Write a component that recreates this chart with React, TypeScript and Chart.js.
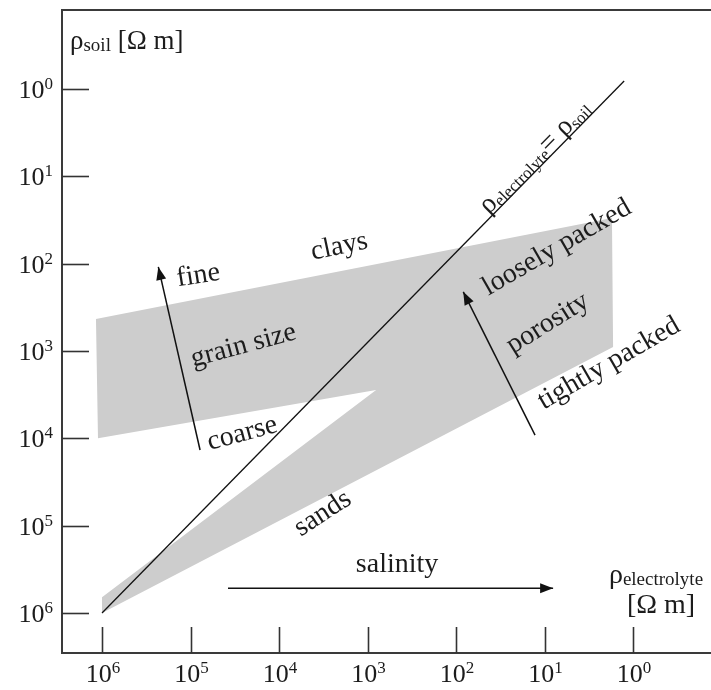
import React, { useEffect, useRef } from "react";
import { Chart, registerables } from "chart.js";

Chart.register(...registerables);

// ---- data ----
const tickValues = [1000000, 100000, 10000, 1000, 100, 10, 1];
const tickExponents = ["6", "5", "4", "3", "2", "1", "0"];

// gray region (clays + sands), polygon vertices
const bandX = [1.17e6, 1.73, 1.68, 1e6, 1e6, 800, 1.11e6];
const bandY = [430, 30, 900, 1e6, 6.6e5, 2800, 1e4];

// rho_electrolyte = rho_soil line
const equalX = [1e6, 1.26];
const equalY = [1e6, 0.81];

// arrows (tail -> tip)
const grainArrowX = [7.8e4, 2.31e5];
const grainArrowY = [1.36e4, 109];
const porosityArrowX = [12.8, 82.8];
const porosityArrowY = [9180, 210];
const salinityArrowX = [3.77e4, 8.0];
const salinityArrowY = [5.2e5, 5.2e5];

// labels
const labelTexts = ["clays", "fine", "grain size", "coarse", "sands", "salinity", "loosely packed", "porosity", "tightly packed"];
const labelX = [2100, 82200, 25500, 26200, 3270, 464, 7.41, 9.38, 1.91];
const labelY = [61.2, 131.5, 834, 8490, 70000, 269000, 62.8, 467, 1340];
const labelAngle = [-12, -9, -15, -15, -33, 0, -30, -32, -30];

const FONT = '"Liberation Serif", "Times New Roman", serif';
const TEXT = "#1c1c1c";
const MAIN = 28;
const SUB = 19;

type Part = { t: string; size: number; dy?: number };

function drawRich(ctx: CanvasRenderingContext2D, parts: Part[], x: number, y: number, angle: number, align: "left" | "center" | "right", base: number) {
  ctx.save();
  ctx.translate(x, y);
  ctx.rotate((angle * Math.PI) / 180);
  ctx.fillStyle = TEXT;
  ctx.textBaseline = "alphabetic";
  ctx.textAlign = "left";
  const widths = parts.map((p) => {
    ctx.font = `${p.size}px ${FONT}`;
    return ctx.measureText(p.t).width;
  });
  const total = widths.reduce((a, b) => a + b, 0);
  let cx = align === "left" ? 0 : align === "center" ? -total / 2 : -total;
  parts.forEach((p, i) => {
    ctx.font = `${p.size}px ${FONT}`;
    ctx.fillText(p.t, cx, base + (p.dy || 0));
    cx += widths[i];
  });
  ctx.restore();
}

const decorPlugin = {
  id: "decor",
  afterDatasetsDraw(chart: any) {
    const ctx: CanvasRenderingContext2D = chart.ctx;
    const xs = chart.scales.x;
    const ys = chart.scales.y;
    const area = chart.chartArea;
    ctx.save();
    // top frame line
    ctx.strokeStyle = "#3a3a3a";
    ctx.lineWidth = 2;
    ctx.beginPath();
    ctx.moveTo(area.left, area.top);
    ctx.lineTo(area.right, area.top);
    ctx.stroke();
    // inward ticks
    ctx.lineWidth = 1.6;
    ctx.strokeStyle = "#333";
    tickValues.forEach((v) => {
      const px = Math.round(xs.getPixelForValue(v)) + 0.5;
      ctx.beginPath();
      ctx.moveTo(px, area.bottom);
      ctx.lineTo(px, area.bottom - 26);
      ctx.stroke();
      const py = Math.round(ys.getPixelForValue(v)) + 0.5;
      ctx.beginPath();
      ctx.moveTo(area.left, py);
      ctx.lineTo(area.left + 27, py);
      ctx.stroke();
    });
    // tick labels
    tickValues.forEach((v, i) => {
      const px = xs.getPixelForValue(v);
      drawRich(ctx, [{ t: "10", size: 26 }, { t: tickExponents[i], size: 17, dy: -9 }], px + 1, area.bottom + 20, 0, "center", 9);
      const py = ys.getPixelForValue(v);
      drawRich(ctx, [{ t: "10", size: 26 }, { t: tickExponents[i], size: 17, dy: -9 }], area.left - 9, py, 0, "right", 9);
    });
    // arrowheads
    chart.data.datasets.forEach((ds: any, di: number) => {
      if (!ds.arrow) return;
      const pts = chart.getDatasetMeta(di).data;
      const a = pts[pts.length - 2];
      const b = pts[pts.length - 1];
      const ang = Math.atan2(b.y - a.y, b.x - a.x);
      const L = 13, W = 5;
      ctx.fillStyle = "#111";
      ctx.beginPath();
      ctx.moveTo(b.x, b.y);
      ctx.lineTo(b.x - L * Math.cos(ang) + W * Math.sin(ang), b.y - L * Math.sin(ang) - W * Math.cos(ang));
      ctx.lineTo(b.x - L * Math.cos(ang) - W * Math.sin(ang), b.y - L * Math.sin(ang) + W * Math.cos(ang));
      ctx.closePath();
      ctx.fill();
    });
    // plain labels
    labelTexts.forEach((t, i) => {
      drawRich(ctx, [{ t, size: MAIN }], xs.getPixelForValue(labelX[i]), ys.getPixelForValue(labelY[i]), labelAngle[i], "center", 9);
    });
    // diagonal label along the equality line
    const p0x = xs.getPixelForValue(equalX[0]);
    const p0y = ys.getPixelForValue(equalY[0]);
    const p1x = xs.getPixelForValue(equalX[1]);
    const p1y = ys.getPixelForValue(equalY[1]);
    const lineAng = (Math.atan2(p1y - p0y, p1x - p0x) * 180) / Math.PI;
    drawRich(
      ctx,
      [
        { t: "ρ", size: MAIN },
        { t: "electrolyte", size: 17, dy: 3 },
        { t: "=", size: MAIN },
        { t: " ρ", size: MAIN },
        { t: "soil", size: 17, dy: 3 },
      ],
      xs.getPixelForValue(13.2),
      ys.getPixelForValue(5.85),
      lineAng,
      "center",
      9
    );
    // axis titles
    drawRich(ctx, [{ t: "ρ", size: 27 }, { t: "soil", size: SUB, dy: 2 }, { t: " [Ω m]", size: 27 }], xs.getPixelForValue(2.3e6), ys.getPixelForValue(0.271), 0, "left", 9);
    drawRich(ctx, [{ t: "ρ", size: MAIN }, { t: "electrolyte", size: SUB, dy: 2 }], xs.getPixelForValue(0.55), ys.getPixelForValue(3.6e5), 0, "center", 9);
    drawRich(ctx, [{ t: "[Ω m]", size: MAIN }], xs.getPixelForValue(0.483), ys.getPixelForValue(7.93e5), 0, "center", 9);
    ctx.restore();
  },
};

const pts = (xs: number[], ys: number[]) => xs.map((x, i) => ({ x, y: ys[i] }));

export default function App() {
  const ref = useRef<HTMLCanvasElement | null>(null);
  useEffect(() => {
    if (!ref.current) return;
    const lineDs = (xs: number[], ys: number[], width: number, arrow: boolean) => ({
      data: pts(xs, ys),
      showLine: true,
      borderColor: "#111",
      borderWidth: width,
      pointRadius: 0,
      fill: false,
      tension: 0,
      order: 0,
      arrow,
    });
    const chart = new Chart(ref.current, {
      type: "scatter",
      data: {
        datasets: [
          {
            data: pts([...bandX, bandX[0]], [...bandY, bandY[0]]),
            showLine: true,
            borderWidth: 0,
            borderColor: "rgba(0,0,0,0)",
            backgroundColor: "#cdcdcd",
            pointRadius: 0,
            fill: "shape",
            tension: 0,
            order: 10,
          } as any,
          lineDs(equalX, equalY, 1.3, false) as any,
          lineDs(grainArrowX, grainArrowY, 1.5, true) as any,
          lineDs(porosityArrowX, porosityArrowY, 1.5, true) as any,
          lineDs(salinityArrowX, salinityArrowY, 1.5, true) as any,
        ],
      },
      options: {
        responsive: false,
        animation: false,
        layout: { padding: { top: 10, right: 0, left: 0, bottom: 0 } },
        plugins: { legend: { display: false }, tooltip: { enabled: false }, filler: { drawTime: "beforeDatasetsDraw" } },
        events: [],
        scales: {
          x: {
            type: "logarithmic",
            reverse: true,
            min: Math.pow(10, -0.881),
            max: Math.pow(10, 6.452),
            grid: { display: false, drawTicks: false },
            border: { display: true, color: "#3a3a3a", width: 2 },
            ticks: { display: false },
            afterFit: (s: any) => {
              s.height = 37;
            },
          },
          y: {
            type: "logarithmic",
            reverse: true,
            min: Math.pow(10, -0.905),
            max: Math.pow(10, 6.458),
            grid: { display: false, drawTicks: false },
            border: { display: true, color: "#3a3a3a", width: 2 },
            ticks: { display: false },
            afterFit: (s: any) => {
              s.width = 62;
            },
          },
        },
      },
      plugins: [decorPlugin],
    } as any);
    return () => chart.destroy();
  }, []);
  return (
    <div style={{ position: "fixed", left: 0, top: 0, width: 711, height: 690, background: "#fff" }}>
      <canvas ref={ref} width={711} height={690} style={{ display: "block" }} />
    </div>
  );
}
